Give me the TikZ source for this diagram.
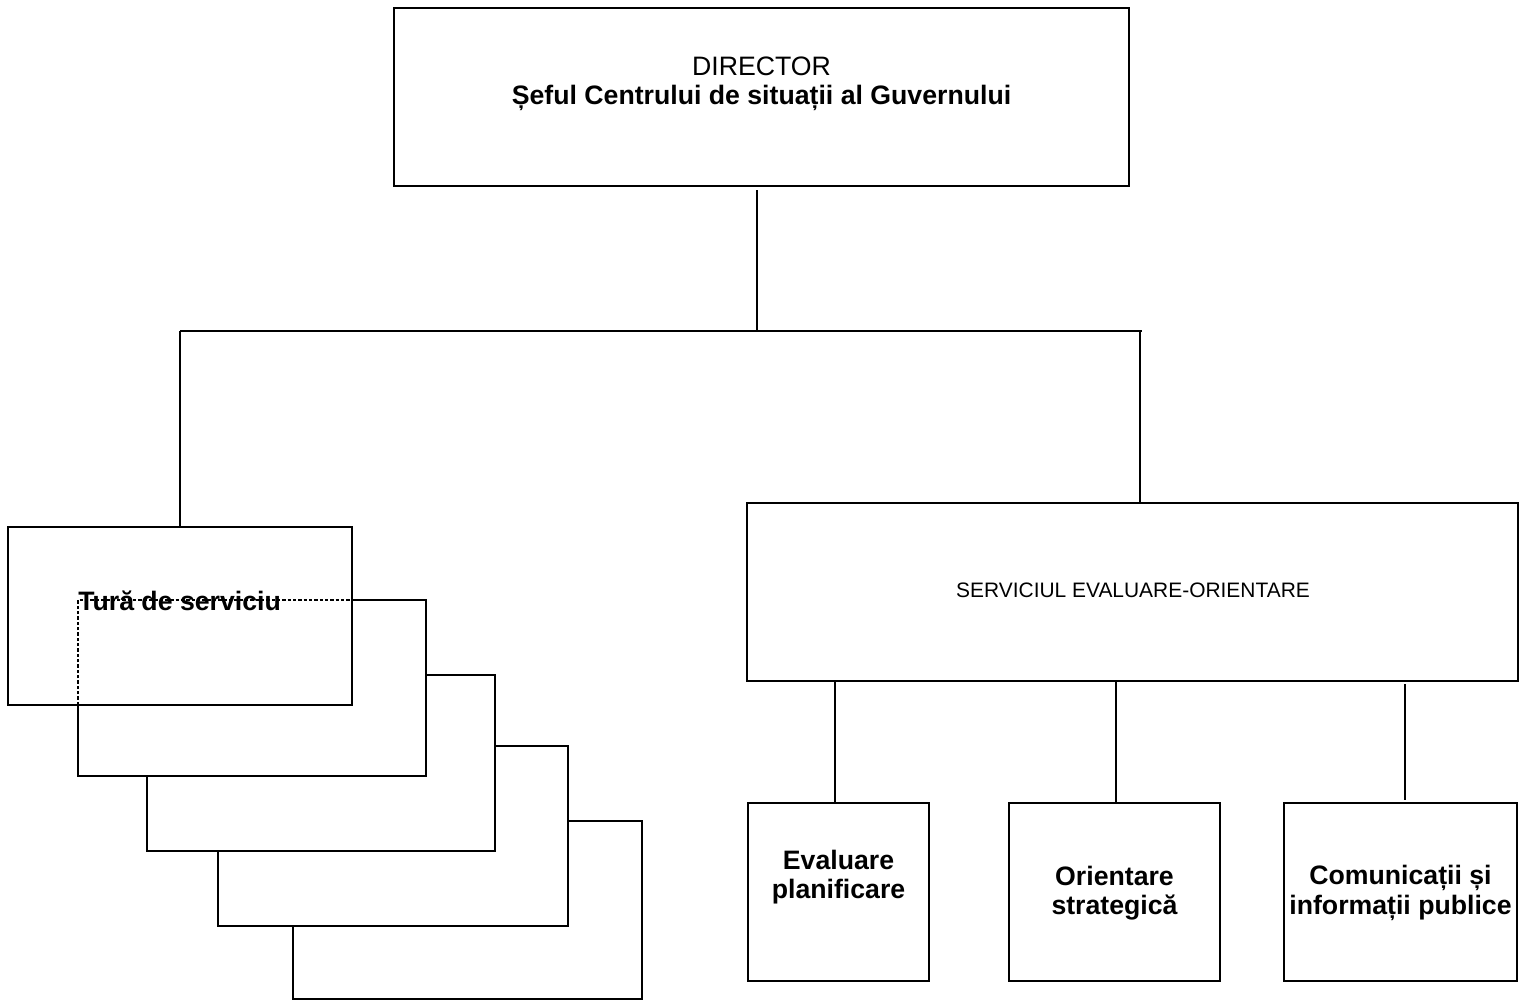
\documentclass[tikz,border=0pt]{standalone}
\usepackage{fontspec}
\setmainfont{Liberation Sans}
\begin{document}
\begin{tikzpicture}[x=0.75pt,y=-0.75pt,
  box/.style={draw,line width=1.3pt,fill=white,rectangle,inner sep=0pt,outer sep=0pt},
  conn/.style={line width=1.3pt},
  hid/.style={line width=0.8pt,dash pattern=on 2.4pt off 1.6pt},
  big/.style={font=\fontsize{20}{22}\selectfont,align=center,inner sep=0pt},
  bigb/.style={font=\fontsize{20}{22}\selectfont\bfseries,align=center,inner sep=0pt},
  small/.style={font=\fontsize{15.7}{18}\selectfont,inner sep=0pt}]
\useasboundingbox (0,0) rectangle (1526,1001);
% director
\node[box,minimum width=551.25pt,minimum height=133.5pt] (dir) at (761.5,97) {};
\node[big] (dirt) at (761.5,84) {DIRECTOR\\\textbf{Șeful Centrului de situații al Guvernului}};
% bus
\coordinate (j) at (757,331);
\coordinate (busL) at (180,331);
\coordinate (busR) at (1142,331);
\draw[conn] (757,190) -- (j);
\draw[conn] (busL) -- (busR);
% stacked shift boxes (back to front)
\node[box,minimum width=261.75pt,minimum height=133.5pt] (s5) at (467.5,910) {};
\node[box,minimum width=262.5pt,minimum height=135pt] (s4) at (393,836) {};
\node[box,minimum width=261pt,minimum height=132pt] (s3) at (321,763) {};
\node[box,minimum width=261pt,minimum height=132pt] (s2) at (252,688) {};
\node[box,minimum width=258pt,minimum height=133.5pt] (tura) at (180,616) {};
\node[bigb,anchor=base west] (turat) at (78,610) {Tură de serviciu};
\draw[hid] (s2.south west |- tura.south) -- (s2.north west) -- (s2.north west -| tura.east);
\draw[conn] (busL) -- (tura.north);
% serviciul
\node[box,minimum width=578.25pt,minimum height=133.5pt] (serv) at (1132.5,592) {};
\node[small] (servt) at (1133,590) {SERVICIUL EVALUARE-ORIENTARE};
\draw[conn] (busR -| 1140,0) -- (serv.north -| 1140,0);
% bottom boxes
\node[box,minimum width=135.75pt,minimum height=133.5pt] (a) at (838.5,892) {};
\node[box,minimum width=158.25pt,minimum height=133.5pt] (b) at (1114.5,892) {};
\node[box,minimum width=174.75pt,minimum height=133.5pt] (c) at (1400.5,892) {};
\node[bigb] (at) at (838.5,877) {Evaluare\\planificare};
\node[bigb] (bt) at (1114.5,893) {Orientare\\strategică};
\node[bigb] (ct) at (1400.5,893) {Comunicații și\\informații publice};
\draw[conn] (serv.south -| 835,0) -- (a.north -| 835,0);
\draw[conn] (serv.south -| 1116,0) -- (b.north -| 1116,0);
\draw[conn] (1405,684) -- (1405,800);
\end{tikzpicture}
\end{document}
